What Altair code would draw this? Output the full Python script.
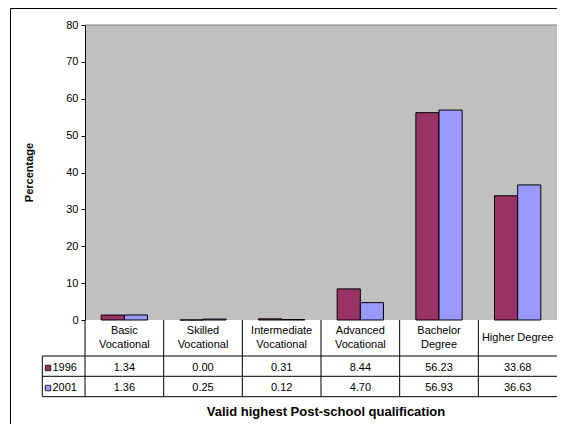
import altair as alt
import pandas as pd

categories = ["Basic Vocational", "Skilled Vocational", "Intermediate Vocational",
              "Advanced Vocational", "Bachelor Degree", "Higher Degree"]
header_labels = ["Basic\nVocational", "Skilled\nVocational", "Intermediate\nVocational",
                 "Advanced\nVocational", "Bachelor\nDegree", "Higher Degree"]
years = ["1996", "2001"]
values_1996 = [1.34, 0.00, 0.31, 8.44, 56.23, 33.68]
values_2001 = [1.36, 0.25, 0.12, 4.70, 56.93, 36.63]
colors = ["#993366", "#9999FF"]
y_ticks = [0, 10, 20, 30, 40, 50, 60, 70, 80]
x_title = "Valid highest Post-school qualification"
y_title = "Percentage"

rows = []
for yr, vals in zip(years, [values_1996, values_2001]):
    for c, h, v in zip(categories, header_labels, vals):
        rows.append({"cat": c, "header": h, "year": yr, "value": v, "label": f"{v:.2f}"})
df = pd.DataFrame(rows)
cats_df = pd.DataFrame({"cat": categories, "header": header_labels})
cats_df["multi"] = cats_df["header"].str.contains("\n")
one = pd.DataFrame({"a": [0]})

FONT = "Liberation Sans"
W, H = 472, 295
ROW_Y = {"1996": 342.5, "2001": 362.5}

x_scale = alt.Scale(domain=categories, paddingInner=0, paddingOuter=0)
color_scale = alt.Scale(domain=years, range=colors)

def x_plain(**kw):
    return alt.X("cat:N", sort=categories, scale=x_scale, axis=None, **kw)

border_left = alt.Chart(one).mark_rule(color="black", strokeWidth=1).encode(
    x=alt.value(-74.5), y=alt.value(-16.5), y2=alt.value(500)
)
border_top = alt.Chart(one).mark_rule(color="black", strokeWidth=1).encode(
    x=alt.value(-74.5), x2=alt.value(600), y=alt.value(-16.5)
)
plot_top = alt.Chart(one).mark_rule(color="#808080", strokeWidth=1).encode(
    x=alt.value(0), x2=alt.value(600), y=alt.value(0)
)

bars = alt.Chart(df).mark_bar(stroke="black", strokeWidth=1).encode(
    x=alt.X("cat:N", sort=categories, scale=x_scale,
            axis=alt.Axis(labels=False, ticks=False, domainColor="black", domainWidth=1,
                          title=None)),
    xOffset=alt.XOffset("year:N", sort=years, scale=alt.Scale(paddingOuter=0.7, paddingInner=0)),
    y=alt.Y("value:Q", scale=alt.Scale(domain=[0, 80], nice=False),
            axis=alt.Axis(values=y_ticks, grid=False, tickSize=4, tickColor="black",
                          domainColor="black", labelFont=FONT, labelFontSize=11,
                          labelColor="black", labelPadding=3,
                          title=y_title, titleFont=FONT, titleFontSize=11,
                          titleFontWeight="bold", titleColor="black",
                          titleX=-56, titleY=147, titleBaseline="middle")),
    color=alt.Color("year:N", scale=color_scale, legend=None),
)

vlines = alt.Chart(cats_df).mark_rule(color="black", strokeWidth=1).encode(
    x=alt.X("cat:N", sort=categories, scale=x_scale, axis=None, bandPosition=0),
    y=alt.value(295), y2=alt.value(371.7),
)
left_vline = alt.Chart(one).mark_rule(color="black", strokeWidth=1).encode(
    x=alt.value(-42.7), y=alt.value(331), y2=alt.value(371.7)
)
hlines = [
    alt.Chart(one).mark_rule(color="black", strokeWidth=1).encode(
        x=alt.value(-42.7), x2=alt.value(500), y=alt.value(yy))
    for yy in [331, 351.3, 371.7]
]

header_multi = alt.Chart(cats_df[cats_df["multi"]]).mark_text(
    font=FONT, fontSize=11, lineBreak="\n", lineHeight=13.5,
    baseline="middle", color="black").encode(
    x=x_plain(), y=alt.value(306), text="header:N"
)
header_single = alt.Chart(cats_df[~cats_df["multi"]]).mark_text(
    font=FONT, fontSize=11, baseline="middle", color="black").encode(
    x=x_plain(), y=alt.value(312.5), text="header:N"
)

title_x = alt.Chart(pd.DataFrame({"t": [x_title]})).mark_text(
    font=FONT, fontSize=13, fontWeight="bold", baseline="middle", color="black").encode(
    x=alt.value(241), y=alt.value(386.5), text="t:N"
)

layers = [border_left, border_top, plot_top, bars, vlines, left_vline] + hlines + [
    header_multi, header_single, title_x]
for yr in years:
    sub = df[df["year"] == yr]
    layers.append(alt.Chart(sub).mark_text(font=FONT, fontSize=11, baseline="middle",
                                           color="black").encode(
        x=x_plain(), y=alt.value(ROW_Y[yr]), text="label:N"))
    leg = sub.iloc[[0]]
    layers.append(alt.Chart(leg).mark_square(size=30, filled=True, opacity=1, stroke="black",
                                             strokeWidth=0.8).encode(
        x=alt.value(-37), y=alt.value(ROW_Y[yr] + 0.5),
        color=alt.Color("year:N", scale=color_scale, legend=None)))
    layers.append(alt.Chart(leg).mark_text(font=FONT, fontSize=11, baseline="middle",
                                           align="left", color="black").encode(
        x=alt.value(-32.5), y=alt.value(ROW_Y[yr]), text="year:N"))

chart = alt.layer(*layers).properties(
    width=W, height=H,
    autosize=alt.AutoSizeParams(type="none"),
    padding={"left": 77, "top": 17, "right": 0, "bottom": 104},
    background="white",
).configure_view(fill="#C0C0C0", strokeWidth=0)

chart.save("out.html", embed_options={"renderer": "svg", "actions": False})
